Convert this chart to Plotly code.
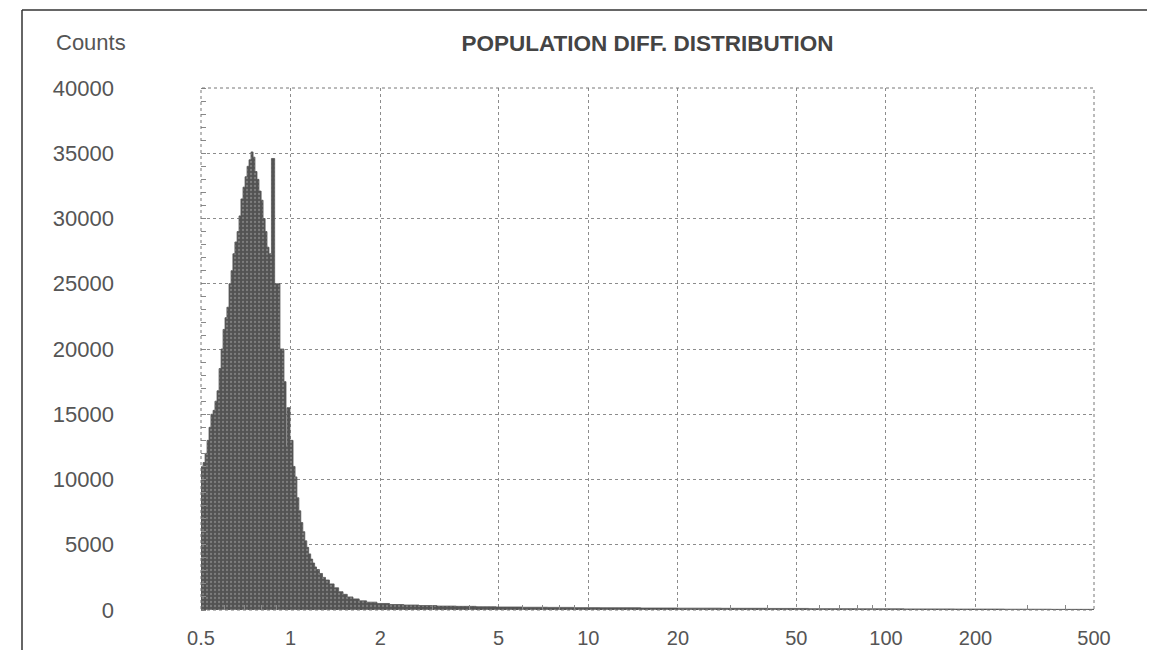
import math
import plotly.graph_objects as go

# ---- data ----
bin_left = [0.500, 0.508, 0.516, 0.524, 0.532, 0.540, 0.549, 0.557, 0.566, 0.575,
            0.584, 0.593, 0.602, 0.611, 0.621, 0.631, 0.640, 0.650, 0.661, 0.671,
            0.681, 0.692, 0.703, 0.714, 0.725, 0.736, 0.748, 0.759, 0.771, 0.783,
            0.796, 0.808, 0.821, 0.833, 0.846, 0.862, 0.884, 0.921, 0.950, 0.965,
            0.972, 0.995, 1.019, 1.035, 1.050, 1.066, 1.082, 1.099, 1.116, 1.133,
            1.150, 1.168, 1.186, 1.204, 1.222, 1.25, 1.28, 1.31, 1.35, 1.40,
            1.45, 1.50, 1.55, 1.62, 1.70, 1.80, 1.95, 2.15, 2.4, 2.7,
            3.1, 3.6, 4.2, 4.9, 6.0, 7.3, 9.0, 11, 15, 20,
            28, 40, 55, 80, 115, 170, 250, 360]
counts = [11000, 11300, 12000, 13000, 14000, 15000, 15300, 16000, 16800, 18500,
          20000, 21500, 22400, 23200, 25000, 26000, 27300, 28200, 29000, 30200,
          31500, 32400, 33200, 34000, 34500, 35100, 34700, 33600, 33000, 32100,
          31400, 30000, 29000, 27800, 27300, 34600, 25000, 20000, 17500, 12500,
          15500, 13000, 11000, 10200, 8600, 7600, 6700, 6000, 5300, 4800,
          4300, 3900, 3600, 3300, 3100, 2800, 2500, 2300, 2000, 1700,
          1400, 1200, 1000, 850, 700, 600, 500, 420, 380, 340,
          300, 280, 250, 230, 210, 200, 180, 170, 150, 140,
          130, 120, 100, 90, 80, 70, 60, 50]
x_min, x_max = 0.5, 500

x_tick_vals = [0.5, 1, 2, 5, 10, 20, 50, 100, 200, 500]
x_tick_text = ["0.5", "1", "2", "5", "10", "20", "50", "100", "200", "500"]
x_minor_vals = [0.6, 0.7, 0.8, 0.9, 3, 4, 6, 7, 8, 9, 30, 40, 60, 70, 80, 90, 300, 400]
y_tick_vals = [0, 5000, 10000, 15000, 20000, 25000, 30000, 35000, 40000]
y_tick_text = ["0", "5000", "10000", "15000", "20000", "25000", "30000", "35000", "40000"]

title_text = "POPULATION DIFF. DISTRIBUTION"
y_label = "Counts"

# ---- layout geometry (page pixels; the page body adds an 8px offset) ----
OFF = 8
W, H = 1155, 650
plot_left, plot_right, plot_top, plot_bottom = 201, 1094, 88, 610
L = plot_left - OFF
T = plot_top - OFF
R = W - (plot_right - OFF)
B = H - (plot_bottom - OFF)
pw, ph = plot_right - plot_left, plot_bottom - plot_top


def px_x(px):
    return (px - plot_left) / pw


def px_y(py):
    return (plot_bottom - py) / ph


xs = bin_left + [x_max]
ys = counts + [counts[-1]]

fig = go.Figure()
fig.add_trace(go.Scatter(
    x=xs, y=ys, mode="lines", line=dict(shape="hv", color="#555555", width=0.8),
    fill="tozeroy", fillcolor="#5a5a5a",
    fillpattern=dict(shape=".", bgcolor="#535353", fgcolor="#a8a8a8", size=4, solidity=0.25),
    hoverinfo="x+y", showlegend=False))

font_family = "Liberation Sans, Arial, sans-serif"
grid = dict(showgrid=True, gridcolor="#8c8c8c", gridwidth=1, griddash="dot")

fig.update_layout(
    width=W, height=H,
    margin=dict(l=L, r=R, t=T, b=B),
    paper_bgcolor="white", plot_bgcolor="white",
    font=dict(family=font_family, size=22, color="#555555"),
    title=dict(text=title_text, x=0.5, xref="paper", xanchor="center",
               y=1 - (43 - OFF) / H, yref="container", yanchor="middle",
               font=dict(family=font_family, size=22.5, color="#444444", weight="bold")),
    xaxis=dict(type="log", range=[math.log10(x_min), math.log10(x_max)],
               tickvals=x_tick_vals, ticktext=x_tick_text, ticks="",
               tickfont=dict(size=20),
               ticklabelstandoff=14, zeroline=False, showline=False, automargin=False,
               minor=dict(tickvals=x_minor_vals, ticks="inside", ticklen=5,
                          tickcolor="#888888", showgrid=False),
               mirror="allticks", **grid),
    yaxis=dict(range=[0, 40000], tickvals=y_tick_vals, ticktext=y_tick_text, ticks="",
               ticklabelstandoff=86, zeroline=False, showline=False, automargin=False,
               minor=dict(dtick=1000, ticks="inside", ticklen=5,
                          tickcolor="#888888", showgrid=False),
               mirror="allticks", **grid),
    annotations=[dict(text=y_label, xref="paper", yref="paper",
                      x=px_x(54), y=px_y(43), xanchor="left", yanchor="middle",
                      showarrow=False, font=dict(size=22, color="#555555"))],
    shapes=[
        dict(type="rect", xref="paper", yref="paper", x0=0, y0=0, x1=1, y1=1,
             line=dict(color="#777777", width=1, dash="dot"), layer="above"),
        dict(type="line", xref="paper", yref="paper",
             x0=px_x(22), x1=px_x(22), y0=px_y(10), y1=px_y(H + 10),
             line=dict(color="#333333", width=1.5)),
        dict(type="line", xref="paper", yref="paper",
             x0=px_x(22), x1=px_x(W + 10), y0=px_y(10), y1=px_y(10),
             line=dict(color="#333333", width=1.5)),
    ],
)

fig.write_html("out.html")
